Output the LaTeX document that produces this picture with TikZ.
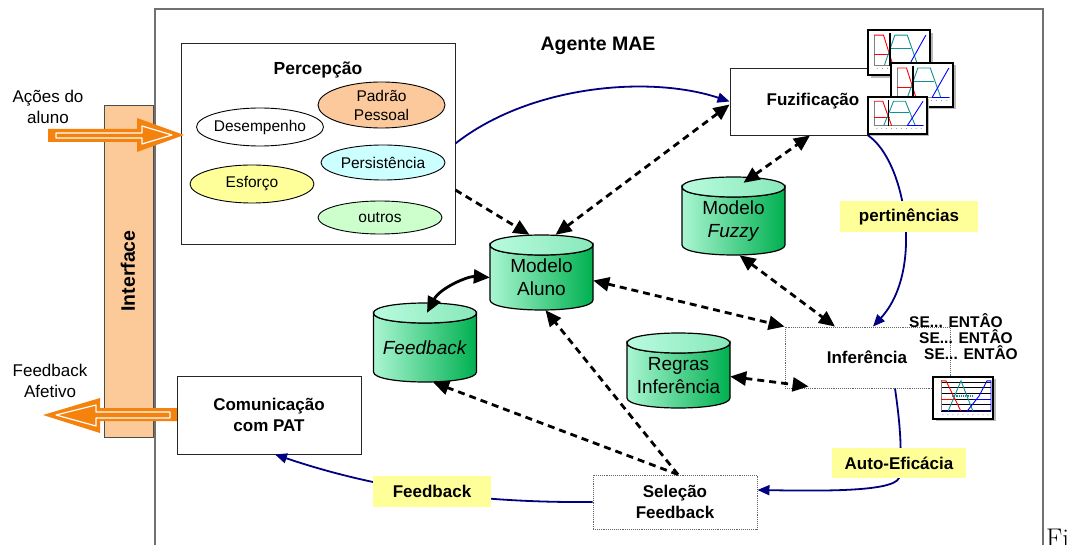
\documentclass[tikz,border=0pt]{standalone}
\usepackage{fontspec}
\setsansfont{Liberation Sans}
\renewcommand{\familydefault}{\sfdefault}
\usetikzlibrary{shapes.geometric,arrows.meta}
\definecolor{navyc}{HTML}{000080}
\definecolor{orangec}{HTML}{F5820D}
\definecolor{peach}{HTML}{FBC99C}
\definecolor{peachbar}{HTML}{FCC999}
\definecolor{lcyan}{HTML}{CCFFFF}
\definecolor{lyellow}{HTML}{FFFF99}
\definecolor{lgreen}{HTML}{CCFFCC}
\definecolor{lbly}{HTML}{FFFF99}
\definecolor{cylL}{HTML}{AAF6D2}
\definecolor{cylR}{HTML}{00B050}
\definecolor{topL}{HTML}{B8FBDE}
\definecolor{topR}{HTML}{88E8BA}
\definecolor{framec}{HTML}{707070}
\definecolor{chteal}{HTML}{109090}
\newcommand\fsreg{\fontsize{15.5pt}{19pt}\selectfont}
\newcommand\fsbold{\fontsize{17pt}{21pt}\selectfont\bfseries}
\newcommand\fscyl{\fontsize{19pt}{23pt}\selectfont}
\newcommand\fsside{\fontsize{17pt}{21pt}\selectfont}
% cylinder: #1 name, #2 cx, #3 top, #4 bottom, #5 text
\newcommand\mycyl[5]{%
  \pgfmathsetmacro\cxa{#2-51.5}\pgfmathsetmacro\cxb{#2+51.5}%
  \pgfmathsetmacro\cyt{#3+10}\pgfmathsetmacro\cyb{#4-10}%
  \pgfmathsetmacro\cytc{\cyt+13.33}\pgfmathsetmacro\cybc{\cyb+13.33}\pgfmathsetmacro\cytu{\cyt-13.33}%
  \pgfmathsetmacro\cmid{(#3+#4)/2}\pgfmathsetmacro\ctxt{(#3+#4)/2+5}%
  \shadedraw[left color=cylL,right color=cylR,draw=black,line width=1.2pt]
    (\cxa,\cyt) -- (\cxa,\cyb) .. controls (\cxa,\cybc) and (\cxb,\cybc) .. (\cxb,\cyb)
    -- (\cxb,\cyt) .. controls (\cxb,\cytc) and (\cxa,\cytc) .. (\cxa,\cyt) -- cycle;
  \shadedraw[left color=topL,right color=topR,draw=black,line width=1.2pt]
    (\cxa,\cyt) .. controls (\cxa,\cytu) and (\cxb,\cytu) .. (\cxb,\cyt)
    .. controls (\cxb,\cytc) and (\cxa,\cytc) .. (\cxa,\cyt) -- cycle;
  \node[inner sep=0pt,minimum width=103pt,minimum height={#4-#3}] (#1) at (#2,\cmid) {};
  \node[font=\fscyl,align=center] (#1t) at (#2,\ctxt) {#5};
}
% chart thumbnail: #1 x, #2 y, #3 w, #4 h
\newcommand\chartimg[4]{%
  \begin{scope}[shift={(#1,#2)},xscale=#3/60,yscale=#4/44]
    \fill[gray!55] (2.5,2.5) rectangle (62.5,46.5);
    \draw[fill=white,line width=1.6pt] (0,0) rectangle (60,44);
    \draw[gray,line width=0.3pt] (6,5) -- (6,34) -- (57,34);
    \foreach \i in {9,14,...,56} \fill[gray] (\i,37.5) circle (0.5);
    \draw[red,line width=0.9pt] (6,5) -- (15,5) -- (24,34);
    \draw[red,line width=0.9pt] (6,24) -- (22,24);
    \draw[chteal,line width=0.9pt] (16,34) -- (26,5) -- (38,5) -- (48,34);
    \draw[chteal,line width=0.9pt] (22,18) -- (42,18);
    \draw[blue,line width=0.9pt] (40,34) -- (56,5);
    \draw[blue,line width=0.9pt] (40,34) -- (56,34);
    \draw[black,line width=1.6pt] (21,3) -- (21,35);
  \end{scope}}
\newcommand\chartinf[4]{%
  \begin{scope}[shift={(#1,#2)},xscale=#3/60,yscale=#4/44]
    \fill[gray!55] (2.5,2.5) rectangle (62.5,46.5);
    \draw[fill=white,line width=1.6pt] (0,0) rectangle (60,44);
    \foreach \j in {5,11,17,23,29,35} \draw[black,line width=0.5pt] (8,\j) -- (58,\j);
    \draw[gray,line width=0.3pt] (8,3) -- (8,36);
    \foreach \i in {10,15,...,56} \fill[gray!70] (\i,39.5) circle (0.6);
    \draw[red,line width=0.9pt] (8,4) -- (13,4) -- (28,36);
    \draw[red,line width=0.9pt] (8,24) -- (22,24);
    \draw[chteal,line width=0.9pt] (15,36) -- (28,4) -- (40,36);
    \draw[chteal,line width=1.2pt,densely dotted] (19,20) -- (39,20);
    \draw[blue,line width=0.9pt] (34,36) -- (46,20) -- (54,4) -- (58,4) -- (58,36);
    \draw[blue,line width=0.9pt] (40,24) -- (58,24);
    \draw[navyc,line width=1.2pt] (8,36) -- (58,36);
  \end{scope}}
\begin{document}
\begin{tikzpicture}[x=1pt,y=-1pt,
  box/.style={draw=black!85,line width=0.9pt,fill=white,inner sep=0pt},
  dotbox/.style={draw=gray!80!black,densely dotted,line width=0.9pt,fill=white,inner sep=0pt},
  ell/.style={ellipse,draw=black,line width=0.9pt,inner sep=0pt,inner xsep=-3pt,inner ysep=-4pt,font=\fsreg,align=center},
  btext/.style={font=\fsbold,align=center,inner sep=0pt},
  lbl/.style={fill=lbly,font=\fsbold,inner sep=0pt},
  bluearr/.style={draw=navyc,line width=1.8pt,-{Triangle[length=12pt,width=10pt]}},
  dasharr/.style={draw=black,line width=2.8pt,dash pattern=on 7pt off 5pt},
  >={Triangle[length=16pt,width=14pt]}]
\useasboundingbox (0,0) rectangle (1073,545);
% outer frame
\draw[framec,line width=1.5pt] (155,9) rectangle (1043,590);
\node[font=\fontsize{19.5pt}{23pt}\selectfont\bfseries] (agente) at (598,46) {Agente MAE};
% interface bar
\node[draw=black!70,line width=0.9pt,fill=peachbar,minimum width=49pt,minimum height=332pt,inner sep=0pt] (iface) at (128.5,271) {};
\node[rotate=90,font=\fontsize{19.5pt}{23pt}\selectfont\bfseries] (ifacet) at (128,271) {Interface};
% side labels
\node[font=\fsside,align=center] (acoes) at (48,107) {Ações do\\aluno};
\node[font=\fsside,align=center] (fbaf) at (50,381) {Feedback\\Afetivo};
% percepcao
\node[box,minimum width=274pt,minimum height=201pt] (perc) at (318,143.5) {};
\node[btext,font=\fontsize{17.5pt}{21pt}\selectfont\bfseries] (perct) at (318,70) {Percepção};
\node[ell,fill=white,minimum width=127pt,minimum height=38pt] (desemp) at (260,127) {Desempenho};
\node[ell,fill=peach,minimum width=127pt,minimum height=46pt] (padrao) at (381.5,105) {Padrão\\Pessoal};
\node[ell,fill=lcyan,minimum width=124pt,minimum height=35pt] (persist) at (383,162.5) {Persistência};
\node[ell,fill=lyellow,minimum width=124pt,minimum height=38pt] (esforco) at (252,184) {Esforço};
\node[ell,fill=lgreen,minimum width=124pt,minimum height=33pt] (outros) at (380,217.5) {outros};
% orange arrows
\fill[orangec] (48,129) -- (137,129) -- (137,118) -- (184,135) -- (137,152) -- (137,142) -- (48,142) -- cycle;
\draw[white,line width=1.2pt,line join=round] (56,133) -- (142,133) -- (142,126) -- (172,135) -- (142,144) -- (142,138) -- (56,138) -- cycle;
\fill[orangec] (177,408) -- (100,408) -- (100,398) -- (43,415) -- (100,433) -- (100,421) -- (177,421) -- cycle;
\draw[white,line width=1.2pt,line join=round] (170,412) -- (96,412) -- (96,405) -- (56,415) -- (96,426) -- (96,418) -- (170,418) -- cycle;
% other boxes
\node[box,minimum width=184pt,minimum height=78pt] (com) at (269,415) {};
\node[btext] (comt) at (269,415) {Comunicação\\com PAT};
\node[box,minimum width=166pt,minimum height=67pt] (fuz) at (813,101.5) {};
\node[btext] (fuzt) at (813,101) {Fuzificação};
\node[dotbox,minimum width=165pt,minimum height=61pt] (inf) at (867.5,357.5) {};
\node[btext] (inft) at (867,357) {Inferência};
\node[dotbox,minimum width=164pt,minimum height=54pt] (sel) at (675,502) {};
\node[btext] (selt) at (675,502) {Seleção\\Feedback};
% cylinders
\mycyl{ma}{541.5}{235}{310}{Modelo\\Aluno}
\mycyl{fb}{425}{303}{382}{\textit{Feedback}}
\mycyl{mf}{733.5}{177}{255}{Modelo\\\textit{Fuzzy}}
\mycyl{ri}{678.5}{333}{408}{Regras\\Inferência}
% blue connectors
\draw[bluearr] (perc.east) .. controls (530,85) and (650,75) .. (fuz.west);
\draw[bluearr] ([xshift=55pt]fuz.south) .. controls (905,160) and (925,270) .. ([xshift=5.5pt]inf.north);
\coordinate (ae) at (899,478);
\draw[bluearr] ([xshift=27.5pt]inf.south) .. controls (901,430) and (902,455) .. (ae) .. controls (893,492) and (820,491) .. ([yshift=12pt]sel.east);
\draw[bluearr] (sel.west) .. controls (480,503) and (380,490) .. ([xshift=6pt]com.south);
% dashed connectors
\draw[dasharr,->] ([yshift=-46.5pt]perc.east) -- ([xshift=-12pt]ma.north);
\draw[dasharr,<->] ([xshift=14pt]ma.north) -- ([yshift=-3pt]fuz.west);
\draw[dasharr,<->] ([xshift=10pt,yshift=-6pt]mf.north) -- ([xshift=-3pt]fuz.south);
\draw[dasharr,<->] ([xshift=6pt]mf.south) -- ([xshift=-32.5pt]inf.north);
\draw[dasharr,<->] ([yshift=-8pt]ma.east) -- (inf.north west);
\draw[dasharr,<->] ([yshift=-6pt]ri.east) -- ([xshift=24pt,yshift=2pt]inf.south west);
\draw[dasharr,->] ([xshift=3pt]sel.north) -- ([xshift=4pt]ma.south);
\draw[dasharr,->] ([xshift=3pt]sel.north) -- ([xshift=8pt]fb.south);
\draw[line width=2.8pt,<->] ([yshift=-5pt]ma.west) .. controls (468,276) and (440,288) .. ([xshift=2pt,yshift=-10pt]fb.north);
% labels
\node[lbl,minimum width=138pt,minimum height=31pt] (pert) at (909,216.5) {pertinências};
\node[lbl,minimum width=134pt,minimum height=30pt] (autoef) at (899,463) {Auto-Eficácia};
\node[lbl,minimum width=118pt,minimum height=31pt] (fblbl) at (432,491.5) {Feedback};
% charts
\chartimg{868}{30}{62}{45}
\chartimg{891}{63}{62}{44}
\chartimg{868}{97}{59}{37}
\chartinf{933}{377}{60}{42}
% rules text
\node[font=\fontsize{15.5pt}{18pt}\selectfont\bfseries,inner sep=0pt] (se1) at (956,321) {SE... ENTÂO};
\node[font=\fontsize{15.5pt}{18pt}\selectfont\bfseries,inner sep=0pt] (se2) at (966,337) {SE... ENTÂO};
\node[font=\fontsize{15.5pt}{18pt}\selectfont\bfseries,inner sep=0pt] (se3) at (971,353) {SE... ENTÂO};
% caption fragment
\node[font=\rmfamily\fontsize{27pt}{27pt}\selectfont,anchor=base west,inner sep=0pt] (fi) at (1046,547) {Fi};
\end{tikzpicture}
\end{document}
